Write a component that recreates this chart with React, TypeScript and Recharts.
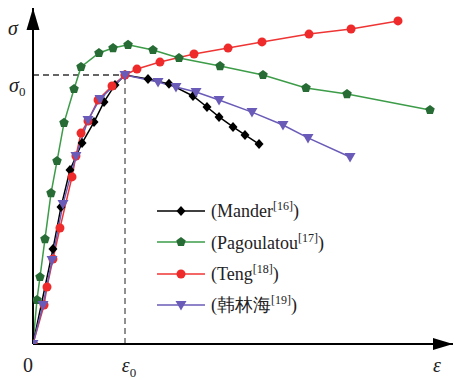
import React from "react";
import { LineChart, Line, XAxis, YAxis, ReferenceLine, ReferenceDot } from "recharts";

// strain / stress normalised by eps0 and sigma0
const manderStrain = [0, 0.217, 0.304, 0.402, 0.533, 0.663, 0.772, 0.891, 1, 1.25, 1.478, 1.739, 1.891, 2.022, 2.174, 2.304, 2.457];
const manderStress = [0, 0.353, 0.509, 0.647, 0.747, 0.825, 0.9, 0.963, 1, 0.985, 0.967, 0.922, 0.881, 0.844, 0.807, 0.777, 0.743];

const pagoStrain = [0, 0.043, 0.076, 0.13, 0.196, 0.261, 0.337, 0.446, 0.522, 0.717, 0.87, 1.033, 1.304, 1.587, 2.033, 2.5, 2.967, 3.413, 4.315];
const pagoStress = [0, 0.164, 0.249, 0.39, 0.561, 0.68, 0.822, 0.948, 1.03, 1.082, 1.1, 1.112, 1.093, 1.063, 1.033, 1.0, 0.952, 0.929, 0.87];

const tengStrain = [0, 0.12, 0.152, 0.217, 0.293, 0.424, 0.467, 0.522, 0.598, 0.707, 0.859, 1, 1.13, 1.38, 1.75, 2.12, 2.489, 3.0, 3.457, 3.967];
const tengStress = [0, 0.145, 0.212, 0.316, 0.431, 0.621, 0.699, 0.784, 0.829, 0.907, 0.959, 1, 1.022, 1.048, 1.078, 1.1, 1.123, 1.152, 1.171, 1.201];

const hanStrain = [0, 0.109, 0.207, 0.326, 0.467, 0.598, 0.728, 1, 1.359, 1.554, 1.772, 2.022, 2.38, 2.717, 2.989, 3.446];
const hanStress = [0, 0.145, 0.312, 0.52, 0.699, 0.833, 0.911, 1, 0.974, 0.955, 0.937, 0.907, 0.862, 0.814, 0.766, 0.695];

const X_MAX = 4.565;
const Y_MAX = 1.249;
const X_LABEL_AT = 4.39;
const Y_LABEL_AT = 1.175;

const toPoints = (xs: number[], ys: number[]) => xs.map((x, i) => ({ x, y: ys[i] }));

const SERIF = "'Times New Roman', Times, 'Liberation Serif', 'DejaVu Serif', serif";

type Kind = "diamond" | "pentagon" | "circle" | "triangle";

const Marker = ({ kind, cx, cy, color }: { kind: Kind; cx: number; cy: number; color: string }) => {
    if (kind === "diamond") {
        return <path d={`M${cx},${cy - 5} L${cx + 4.5},${cy} L${cx},${cy + 5} L${cx - 4.5},${cy} Z`} fill={color} />;
    }
    if (kind === "pentagon") {
        const pts = [0, 1, 2, 3, 4]
            .map((k) => {
                const a = -Math.PI / 2 + (k * 2 * Math.PI) / 5;
                return `${cx + 5 * Math.cos(a)},${cy + 5 * Math.sin(a)}`;
            })
            .join(" ");
        return <polygon points={pts} fill={color} />;
    }
    if (kind === "circle") {
        return <circle cx={cx} cy={cy} r={4.5} fill={color} />;
    }
    return <polygon points={`${cx - 5.5},${cy - 4} ${cx + 5.5},${cy - 4} ${cx},${cy + 5.5}`} fill={color} />;
};

const series = [
    { name: "Mander", ref: "[16]", data: toPoints(manderStrain, manderStress), line: "#000000", marker: "#000000", kind: "diamond" as Kind },
    { name: "Pagoulatou", ref: "[17]", data: toPoints(pagoStrain, pagoStress), line: "#3c9c48", marker: "#276b35", kind: "pentagon" as Kind },
    { name: "Teng", ref: "[18]", data: toPoints(tengStrain, tengStress), line: "#ef3434", marker: "#ef2a2a", kind: "circle" as Kind },
    { name: "韩林海", ref: "[19]", data: toPoints(hanStrain, hanStress), line: "#6a5bb8", marker: "#6a5bb8", kind: "triangle" as Kind },
];

// drawing order (legend order is different)
const drawOrder = ["Pagoulatou", "Mander", "Teng", "韩林海"];

const XTick = (props: any) => {
    const { x, y, payload } = props;
    if (payload.value === 0) {
        return (
            <text x={x - 5} y={y + 20} textAnchor="middle" style={{ fontFamily: SERIF }} fontSize={20} fill="#222">
                0
            </text>
        );
    }
    if (payload.value === 1) {
        return (
            <text x={x + 4} y={y + 20} textAnchor="middle" style={{ fontFamily: SERIF }} fontSize={20} fill="#222">
                <tspan fontStyle="italic">ε</tspan>
                <tspan fontSize={13} dy={5}>0</tspan>
            </text>
        );
    }
    return (
        <text x={x} y={y + 20} textAnchor="middle" style={{ fontFamily: SERIF }} fontStyle="italic" fontSize={20} fill="#222">
            ε
        </text>
    );
};

const YTick = (props: any) => {
    const { y, payload } = props;
    if (payload.value === 1) {
        return (
            <text x={9} y={y + 17} style={{ fontFamily: SERIF }} fontSize={20} fill="#222">
                <tspan fontStyle="italic">σ</tspan>
                <tspan fontSize={13} dy={4}>0</tspan>
            </text>
        );
    }
    return (
        <text x={8} y={y + 7} style={{ fontFamily: SERIF }} fontStyle="italic" fontSize={20} fill="#222">
            σ
        </text>
    );
};

const LegendBox = () => (
    <div style={{ position: "absolute", left: 155, top: 195, fontFamily: SERIF, fontSize: 18, color: "#222" }}>
        {series.map((s) => (
            <div key={s.name} style={{ display: "flex", alignItems: "center", height: 31.5 }}>
                <svg width={56} height={16}>
                    <line x1={2} y1={8} x2={50} y2={8} stroke={s.line} strokeWidth={1.5} />
                    <Marker kind={s.kind} cx={26} cy={8} color={s.marker} />
                </svg>
                <span style={{ whiteSpace: "nowrap" }}>
                    ({s.name}
                    <sup style={{ fontSize: 12 }}>{s.ref}</sup>)
                </span>
            </div>
        ))}
    </div>
);

const App: React.FC = () => {
    return (
        <div style={{ position: "absolute", left: 0, top: 0, width: 454, height: 380, background: "#fff" }}>
            <LineChart width={454} height={380} margin={{ top: 8, right: 1, left: 0, bottom: 0 }}>
                <XAxis
                    type="number"
                    dataKey="x"
                    domain={[0, X_MAX]}
                    ticks={[0, 1, X_LABEL_AT]}
                    tick={<XTick />}
                    tickLine={false}
                    axisLine={{ stroke: "#000", strokeWidth: 2 }}
                    height={36}
                    allowDataOverflow
                />
                <YAxis
                    type="number"
                    dataKey="y"
                    domain={[0, Y_MAX]}
                    ticks={[1, Y_LABEL_AT]}
                    tick={<YTick />}
                    tickLine={false}
                    axisLine={{ stroke: "#000", strokeWidth: 2 }}
                    width={33}
                    allowDataOverflow
                />
                <ReferenceLine segment={[{ x: 0, y: 1 }, { x: 1, y: 1 }]} stroke="#333" strokeWidth={1.3} strokeDasharray="6 4" />
                <ReferenceLine segment={[{ x: 1, y: 0 }, { x: 1, y: 1 }]} stroke="#555" strokeWidth={1.3} strokeDasharray="6 4" />
                {drawOrder.map((n) => {
                    const s = series.find((d) => d.name === n)!;
                    return (
                        <Line
                            key={s.name}
                            data={s.data}
                            dataKey="y"
                            name={s.name}
                            type="linear"
                            stroke={s.line}
                            strokeWidth={1.5}
                            isAnimationActive={false}
                            dot={(p: any) => <Marker key={`${s.name}-${p.index}`} kind={s.kind} cx={p.cx} cy={p.cy} color={s.marker} />}
                            activeDot={false}
                        />
                    );
                })}
                <ReferenceDot
                    x={X_MAX}
                    y={0}
                    ifOverflow="visible"
                    shape={(p: any) => <path d={`M${p.cx},${p.cy} l-20,-6 l0,12 z`} fill="#000" />}
                />
                <ReferenceDot
                    x={0}
                    y={Y_MAX}
                    ifOverflow="visible"
                    shape={(p: any) => <path d={`M${p.cx},${p.cy} l-6.5,22 l13,0 z`} fill="#000" />}
                />
            </LineChart>
            <LegendBox />
        </div>
    );
};

export default App;
